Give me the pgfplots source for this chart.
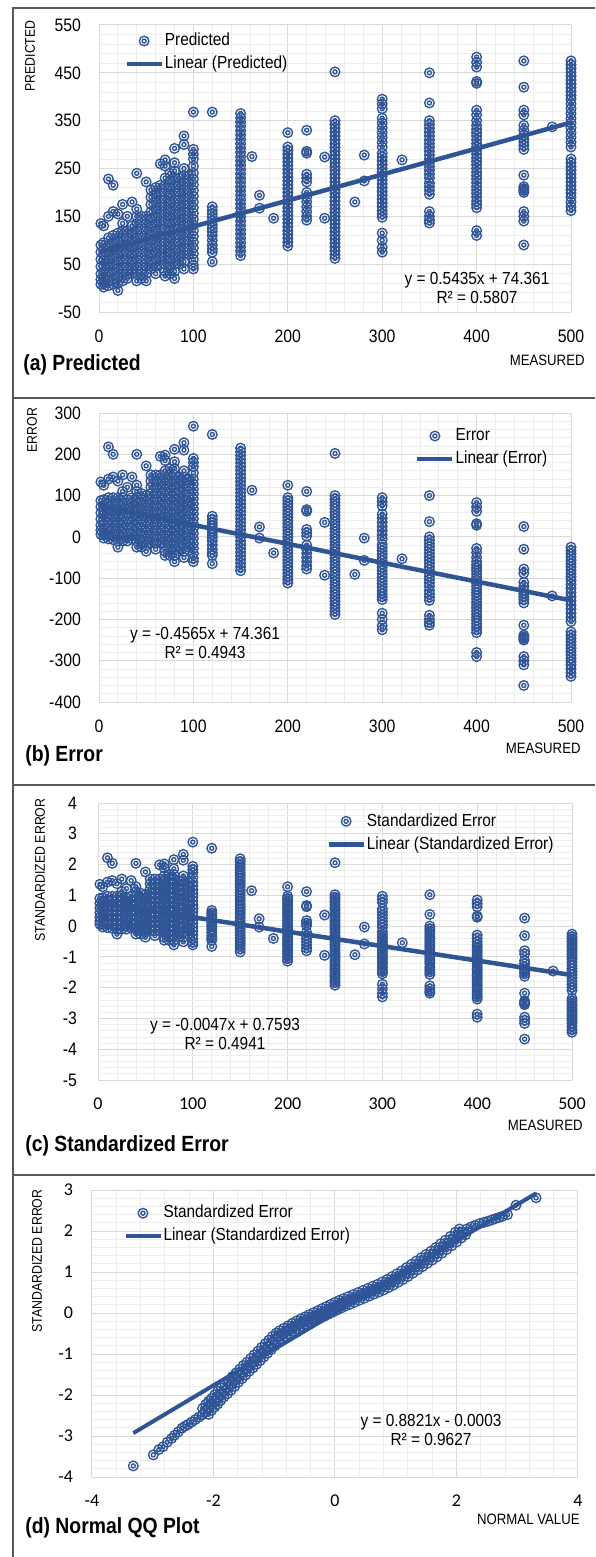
\documentclass[border=0pt]{standalone}
\usepackage{pgfplots}
\pgfplotsset{compat=1.18}
\usepackage{pgfplotstable}
\usepackage{fontspec}
\setmainfont{Liberation Sans}[FakeStretch=0.88]
\newfontfamily\carl{Carlito}
\definecolor{cBlue}{HTML}{2F5597}
\definecolor{gMaj}{HTML}{D9D9D9}
\definecolor{gMin}{HTML}{EDEDED}
\definecolor{frameC}{HTML}{595959}

\pgfdeclareplotmark{dring}{%
  \pgfpathcircle{\pgfpointorigin}{\pgfplotmarksize}%
  \pgfpathcircle{\pgfpointorigin}{0.42\pgfplotmarksize}%
  \pgfusepathqstroke}

\pgfplotsset{
  /pgf/number format/assume math mode=true,
  xlsx/.style={
    scale only axis, anchor=south west, clip=false,
    axis line style={draw=none}, tick style={draw=none},
    grid=both, major grid style={gMaj, line width=0.5pt},
    minor grid style={gMin, line width=0.4pt},
    minor x tick num=4, minor y tick num=4,
    tick label style={font=\fontsize{9}{10}\selectfont},
    xticklabel style={yshift=-5.5pt},
    yticklabel style={xshift=-5.5pt},
    legend cell align=left,
    legend style={draw=none, fill=none, anchor=north west, inner sep=0pt,
      font=\fontsize{8.75}{10}\selectfont, row sep=2.2pt,
      nodes={inner sep=0.5pt, text height=6.5pt, text depth=1.8pt}},
  },
  ring/.style={only marks, mark=dring, mark size=2.4pt,
    mark options={draw=cBlue, line width=0.68pt},
    legend image code/.code={\draw[mark repeat=2,mark phase=2,##1]
      plot coordinates {(0pt,0pt) (8.75pt,0pt) (17.5pt,0pt)};}},
  trend/.style={cBlue, line width=2.25pt, no marks,
    legend image code/.code={\draw[##1] (0pt,0pt) -- (17.5pt,0pt);}},
}

\pgfplotstableread{
x p e s
500 475 -25 -0.26
500 467 -33 -0.34
500 459 -41 -0.42
500 451 -49 -0.50
500 443 -57 -0.58
500 435 -65 -0.66
500 427 -73 -0.74
500 419 -81 -0.83
500 411 -89 -0.91
500 403 -97 -0.99
500 395 -105 -1.07
500 385 -115 -1.17
500 375 -125 -1.28
500 365 -135 -1.38
500 355 -145 -1.48
500 345 -155 -1.58
500 335 -165 -1.68
500 325 -175 -1.79
500 315 -185 -1.89
500 305 -195 -1.99
500 295 -205 -2.09
500 270 -230 -2.35
500 262 -238 -2.43
500 254 -246 -2.51
500 246 -254 -2.59
500 238 -262 -2.67
500 230 -270 -2.76
500 222 -278 -2.84
500 214 -286 -2.92
500 206 -294 -3.00
500 198 -302 -3.08
500 190 -310 -3.16
500 180 -320 -3.27
500 170 -330 -3.37
500 162 -338 -3.45
480 337 -143 -1.46
450 475 25 0.26
450 420 -30 -0.31
450 372 -78 -0.80
450 362 -88 -0.90
450 340 -110 -1.12
450 330 -120 -1.22
450 320 -130 -1.33
450 312 -138 -1.41
450 305 -145 -1.48
450 298 -152 -1.55
450 290 -160 -1.63
450 236 -214 -2.18
450 212 -238 -2.43
450 208 -242 -2.47
450 204 -246 -2.51
450 200 -250 -2.55
450 160 -290 -2.96
450 150 -300 -3.06
450 140 -310 -3.16
450 90 -360 -3.67
400 483 83 0.85
400 472 72 0.73
400 462 62 0.63
400 432 32 0.33
400 428 28 0.29
400 372 -28 -0.29
400 362 -38 -0.39
400 350 -50 -0.51
400 340 -60 -0.61
400 332 -68 -0.69
400 325 -75 -0.77
400 318 -82 -0.84
400 310 -90 -0.92
400 302 -98 -1.00
400 295 -105 -1.07
400 288 -112 -1.14
400 280 -120 -1.22
400 272 -128 -1.31
400 265 -135 -1.38
400 258 -142 -1.45
400 250 -150 -1.53
400 242 -158 -1.61
400 235 -165 -1.68
400 228 -172 -1.76
400 220 -180 -1.84
400 212 -188 -1.92
400 205 -195 -1.99
400 198 -202 -2.06
400 190 -210 -2.14
400 182 -218 -2.22
400 175 -225 -2.30
400 168 -232 -2.37
400 120 -280 -2.86
400 110 -290 -2.96
350 450 100 1.02
350 387 37 0.38
350 350 0 0.00
350 342 -8 -0.08
350 334 -16 -0.16
350 326 -24 -0.24
350 318 -32 -0.33
350 310 -40 -0.41
350 302 -48 -0.49
350 294 -56 -0.57
350 286 -64 -0.65
350 278 -72 -0.73
350 270 -80 -0.82
350 262 -88 -0.90
350 254 -96 -0.98
350 246 -104 -1.06
350 238 -112 -1.14
350 230 -120 -1.22
350 220 -130 -1.33
350 212 -138 -1.41
350 204 -146 -1.49
350 196 -154 -1.57
350 160 -190 -1.94
350 150 -200 -2.04
350 142 -208 -2.12
350 136 -214 -2.18
321 268 -53 -0.54
281 278 -3 -0.03
281 224 -57 -0.58
271 180 -91 -0.93
239 274 35 0.36
239 146 -93 -0.95
300 395 95 0.97
300 385 85 0.87
300 375 75 0.77
300 355 55 0.56
300 345 45 0.46
300 335 35 0.36
300 325 25 0.26
300 315 15 0.15
300 305 5 0.05
300 295 -5 -0.05
300 282 -18 -0.18
300 274 -26 -0.27
300 266 -34 -0.35
300 258 -42 -0.43
300 250 -50 -0.51
300 242 -58 -0.59
300 234 -66 -0.67
300 226 -74 -0.76
300 218 -82 -0.84
300 210 -90 -0.92
300 202 -98 -1.00
300 194 -106 -1.08
300 186 -114 -1.16
300 178 -122 -1.24
300 170 -130 -1.33
300 162 -138 -1.41
300 155 -145 -1.48
300 148 -152 -1.55
300 115 -185 -1.89
300 100 -200 -2.04
300 85 -215 -2.19
300 75 -225 -2.30
250 452 202 2.06
250 350 100 1.02
250 342 92 0.94
250 334 84 0.86
250 326 76 0.78
250 318 68 0.69
250 310 60 0.61
250 302 52 0.53
250 294 44 0.45
250 286 36 0.37
250 278 28 0.29
250 270 20 0.20
250 262 12 0.12
250 254 4 0.04
250 246 -4 -0.04
250 238 -12 -0.12
250 230 -20 -0.20
250 222 -28 -0.29
250 214 -36 -0.37
250 206 -44 -0.45
250 198 -52 -0.53
250 190 -60 -0.61
250 182 -68 -0.69
250 174 -76 -0.78
250 166 -84 -0.86
250 158 -92 -0.94
250 150 -100 -1.02
250 142 -108 -1.10
250 134 -116 -1.18
250 126 -124 -1.27
250 118 -132 -1.35
250 110 -140 -1.43
250 102 -148 -1.51
250 94 -156 -1.59
250 86 -164 -1.67
250 78 -172 -1.76
250 70 -180 -1.84
250 62 -188 -1.92
220 330 110 1.12
220 286 66 0.67
220 282 62 0.63
220 238 18 0.18
220 230 10 0.10
220 222 2 0.02
220 200 -20 -0.20
220 190 -30 -0.31
220 180 -40 -0.41
220 170 -50 -0.51
220 160 -60 -0.61
220 150 -70 -0.71
220 142 -78 -0.80
200 325 125 1.28
200 295 95 0.97
200 288 88 0.90
200 280 80 0.82
200 272 72 0.73
200 264 64 0.65
200 256 56 0.57
200 248 48 0.49
200 240 40 0.41
200 232 32 0.33
200 224 24 0.24
200 216 16 0.16
200 208 8 0.08
200 200 0 0.00
200 192 -8 -0.08
200 184 -16 -0.16
200 176 -24 -0.24
200 168 -32 -0.33
200 160 -40 -0.41
200 152 -48 -0.49
200 144 -56 -0.57
200 136 -64 -0.65
200 128 -72 -0.73
200 120 -80 -0.82
200 112 -88 -0.90
200 104 -96 -0.98
200 96 -104 -1.06
200 88 -112 -1.14
185 146 -39 -0.40
170 194 24 0.24
170 167 -3 -0.03
162 275 113 1.15
150 365 215 2.19
150 356 206 2.10
150 347 197 2.01
150 338 188 1.92
150 329 179 1.83
150 320 170 1.73
150 311 161 1.64
150 302 152 1.55
150 293 143 1.46
150 284 134 1.37
150 275 125 1.28
150 266 116 1.18
150 257 107 1.09
150 248 98 1.00
150 239 89 0.91
150 230 80 0.82
150 221 71 0.72
150 212 62 0.63
150 203 53 0.54
150 194 44 0.45
150 185 35 0.36
150 176 26 0.27
150 167 17 0.17
150 158 8 0.08
150 149 -1 -0.01
150 140 -10 -0.10
150 131 -19 -0.19
150 122 -28 -0.29
150 113 -37 -0.38
150 104 -46 -0.47
150 95 -55 -0.56
150 86 -64 -0.65
150 77 -73 -0.74
150 68 -82 -0.84
120 368 248 2.53
120 170 50 0.51
120 162 42 0.43
120 155 35 0.36
120 148 28 0.29
120 140 20 0.20
120 132 12 0.12
120 125 5 0.05
120 118 -2 -0.02
120 110 -10 -0.10
120 100 -20 -0.20
120 90 -30 -0.31
120 82 -38 -0.39
120 75 -45 -0.46
120 55 -65 -0.66
100 368 268 2.73
100 290 190 1.94
100 280 180 1.84
100 270 170 1.73
100 255 155 1.58
100 240 140 1.43
100 228 128 1.31
100 216 116 1.18
100 204 104 1.06
100 192 92 0.94
100 180 80 0.82
100 168 68 0.69
100 156 56 0.57
100 144 44 0.45
100 132 32 0.33
100 120 20 0.20
100 108 8 0.08
100 96 -4 -0.04
100 84 -16 -0.16
100 72 -28 -0.29
100 60 -40 -0.41
100 48 -52 -0.53
100 40 -60 -0.61
95 235 140 1.43
95 220 125 1.28
95 205 110 1.12
95 190 95 0.97
95 175 80 0.82
95 160 65 0.66
95 145 50 0.51
95 130 35 0.36
95 115 20 0.20
95 100 5 0.05
95 85 -10 -0.10
95 70 -25 -0.26
90 318 228 2.33
90 300 210 2.14
90 250 160 1.63
90 235 145 1.48
90 220 130 1.33
90 205 115 1.17
90 190 100 1.02
90 175 85 0.87
90 160 70 0.71
90 145 55 0.56
90 130 40 0.41
90 115 25 0.26
90 100 10 0.10
90 85 -5 -0.05
90 70 -20 -0.20
90 55 -35 -0.36
90 40 -50 -0.51
85 230 145 1.48
85 215 130 1.33
85 200 115 1.17
85 185 100 1.02
85 170 85 0.87
85 155 70 0.71
85 140 55 0.56
85 125 40 0.41
85 110 25 0.26
85 95 10 0.10
85 80 -5 -0.05
85 65 -20 -0.20
85 50 -35 -0.36
80 292 212 2.16
80 262 182 1.86
80 245 165 1.68
80 230 150 1.53
80 215 135 1.38
80 200 120 1.22
80 185 105 1.07
80 170 90 0.92
80 155 75 0.77
80 140 60 0.61
80 125 45 0.46
80 110 30 0.31
80 95 15 0.15
80 80 0 0.00
80 65 -15 -0.15
80 50 -30 -0.31
80 35 -45 -0.46
80 20 -60 -0.61
75 240 165 1.68
75 225 150 1.53
75 210 135 1.38
75 195 120 1.22
75 180 105 1.07
75 165 90 0.92
75 150 75 0.77
75 135 60 0.61
75 120 45 0.46
75 105 30 0.31
75 90 15 0.15
75 75 0 0.00
75 60 -15 -0.15
75 45 -30 -0.31
75 30 -45 -0.46
70 268 198 2.02
70 255 185 1.89
70 230 160 1.63
70 215 145 1.48
70 200 130 1.33
70 185 115 1.17
70 170 100 1.02
70 155 85 0.87
70 140 70 0.71
70 125 55 0.56
70 110 40 0.41
70 95 25 0.26
70 80 10 0.10
70 65 -5 -0.05
70 50 -20 -0.20
70 35 -35 -0.36
70 25 -45 -0.46
65 260 195 1.99
65 215 150 1.53
65 200 135 1.38
65 185 120 1.22
65 170 105 1.07
65 155 90 0.92
65 140 75 0.77
65 125 60 0.61
65 110 45 0.46
65 95 30 0.31
65 80 15 0.15
65 65 0 0.00
65 50 -15 -0.15
60 210 150 1.53
60 195 135 1.38
60 180 120 1.22
60 165 105 1.07
60 150 90 0.92
60 135 75 0.77
60 120 60 0.61
60 105 45 0.46
60 90 30 0.31
60 75 15 0.15
60 60 0 0.00
60 45 -15 -0.15
60 30 -30 -0.31
55 205 150 1.53
55 190 135 1.38
55 175 120 1.22
55 160 105 1.07
55 145 90 0.92
55 130 75 0.77
55 115 60 0.61
55 100 45 0.46
55 85 30 0.31
55 70 15 0.15
55 55 0 0.00
55 40 -15 -0.15
50 222 172 1.76
50 150 100 1.02
50 135 85 0.87
50 120 70 0.71
50 105 55 0.56
50 90 40 0.41
50 75 25 0.26
50 60 10 0.10
50 45 -5 -0.05
50 30 -20 -0.20
50 15 -35 -0.36
45 150 105 1.07
45 135 90 0.92
45 120 75 0.77
45 105 60 0.61
45 90 45 0.46
45 75 30 0.31
45 60 15 0.15
45 45 0 0.00
45 30 -15 -0.15
45 20 -25 -0.26
40 240 200 2.04
40 165 125 1.28
40 150 110 1.12
40 135 95 0.97
40 120 80 0.82
40 105 65 0.66
40 90 50 0.51
40 75 35 0.36
40 60 20 0.20
40 45 5 0.05
40 30 -10 -0.10
40 15 -25 -0.26
35 180 145 1.48
35 130 95 0.97
35 115 80 0.82
35 100 65 0.66
35 85 50 0.51
35 70 35 0.36
35 55 20 0.20
35 40 5 0.05
35 30 -5 -0.05
30 150 120 1.22
30 120 90 0.92
30 105 75 0.77
30 90 60 0.61
30 75 45 0.46
30 60 30 0.31
30 45 15 0.15
30 30 0 0.00
30 20 -10 -0.10
25 175 150 1.53
25 135 110 1.12
25 120 95 0.97
25 105 80 0.82
25 90 65 0.66
25 75 50 0.51
25 60 35 0.36
25 45 20 0.20
25 30 5 0.05
25 15 -10 -0.10
20 155 135 1.38
20 115 95 0.97
20 100 80 0.82
20 85 65 0.66
20 70 50 0.51
20 55 35 0.36
20 40 20 0.20
20 25 5 0.05
20 10 -10 -0.10
20 -5 -25 -0.26
15 215 200 2.04
15 160 145 1.48
15 110 95 0.97
15 95 80 0.82
15 80 65 0.66
15 65 50 0.51
15 50 35 0.36
15 35 20 0.20
15 20 5 0.05
15 8 -7 -0.07
10 228 218 2.22
10 150 140 1.43
10 105 95 0.97
10 90 80 0.82
10 75 65 0.66
10 60 50 0.51
10 45 35 0.36
10 30 20 0.20
10 15 5 0.05
10 5 -5 -0.05
5 130 125 1.28
5 95 90 0.92
5 82 77 0.79
5 70 65 0.66
5 58 53 0.54
5 46 41 0.42
5 34 29 0.30
5 22 17 0.17
5 10 5 0.05
5 2 -3 -0.03
2 135 133 1.36
2 90 88 0.90
2 75 73 0.74
2 60 58 0.59
2 45 43 0.44
2 30 28 0.29
2 18 16 0.16
2 8 6 0.06
}\datatab

\pgfplotstableread{
v s
-3.32 -3.73
-2.99 -3.46
-2.90 -3.33
-2.83 -3.26
-2.76 -3.15
-2.69 -3.06
-2.64 -2.98
-2.58 -2.90
-2.52 -2.81
-2.47 -2.76
-2.42 -2.72
-2.36 -2.66
-2.30 -2.60
-2.24 -2.54
-2.18 -2.48
-2.13 -2.40
-2.08 -2.30
-2.03 -2.22
-1.98 -2.15
-1.93 -2.06
-1.88 -1.98
-1.82 -1.90
-1.76 -1.81
-1.70 -1.72
-1.64 -1.62
-1.58 -1.53
-1.52 -1.44
-1.46 -1.35
-1.40 -1.27
-1.34 -1.18
-1.28 -1.09
-1.22 -1.00
-1.16 -0.91
-1.10 -0.82
-1.04 -0.73
-0.98 -0.64
-0.92 -0.56
-0.86 -0.50
-0.79 -0.44
-0.72 -0.38
-0.65 -0.32
-0.58 -0.26
-0.51 -0.21
-0.44 -0.16
-0.37 -0.11
-0.30 -0.06
-0.23 -0.01
-0.16 0.04
-0.09 0.09
-0.02 0.14
0.05 0.19
0.12 0.24
0.19 0.28
0.27 0.33
0.35 0.38
0.43 0.43
0.51 0.48
0.59 0.53
0.67 0.58
0.75 0.63
0.83 0.69
0.91 0.75
0.99 0.82
1.07 0.89
1.15 0.96
1.23 1.04
1.31 1.12
1.39 1.20
1.47 1.28
1.55 1.36
1.63 1.44
1.71 1.53
1.79 1.62
1.87 1.71
1.95 1.80
2.03 1.90
2.10 1.98
2.17 2.05
2.24 2.10
2.31 2.14
2.38 2.18
2.45 2.21
2.52 2.24
2.58 2.27
2.64 2.30
2.70 2.33
2.76 2.36
2.84 2.40
2.98 2.63
3.31 2.81
-2.18 -2.33
-2.13 -2.23
-2.08 -2.15
-2.03 -2.08
-1.98 -1.99
-1.93 -1.91
-1.87 -1.83
-1.81 -1.74
-1.75 -1.65
-1.69 -1.55
-1.63 -1.46
-1.57 -1.37
-1.51 -1.28
-1.45 -1.20
-1.39 -1.11
-1.33 -1.02
-1.27 -0.93
-1.21 -0.84
-1.15 -0.75
-1.09 -0.66
-1.03 -0.57
-0.97 -0.49
-0.91 -0.43
-0.84 -0.37
-0.77 -0.31
-0.70 -0.25
-0.63 -0.19
-0.56 -0.14
-0.49 -0.09
-0.42 -0.04
-0.35 0.01
-0.28 0.06
-0.21 0.11
-0.14 0.16
-0.07 0.21
0.00 0.26
0.07 0.31
0.14 0.35
0.22 0.40
0.30 0.45
0.38 0.50
0.46 0.55
0.54 0.60
0.62 0.65
0.70 0.70
0.78 0.76
0.86 0.82
0.94 0.89
1.02 0.96
1.10 1.03
1.18 1.11
1.26 1.19
1.34 1.27
1.42 1.35
1.50 1.43
1.58 1.51
1.66 1.60
1.74 1.69
1.82 1.78
1.90 1.87
1.98 1.97
2.05 2.05
-2.08 -2.47
-2.03 -2.37
-1.98 -2.29
-1.93 -2.22
-1.88 -2.13
-1.83 -2.05
-1.77 -1.97
-1.71 -1.88
-1.65 -1.79
-1.59 -1.69
-1.53 -1.60
-1.47 -1.51
-1.41 -1.42
-1.35 -1.34
-1.29 -1.25
-1.23 -1.16
-1.17 -1.07
-1.11 -0.98
-1.05 -0.89
-0.99 -0.80
-0.93 -0.71
-0.87 -0.63
-0.81 -0.57
-0.74 -0.51
-0.67 -0.45
-0.60 -0.39
-0.53 -0.33
-0.46 -0.28
-0.39 -0.23
-0.32 -0.18
-0.25 -0.13
-0.18 -0.08
-0.11 -0.03
-0.04 0.02
0.03 0.07
0.10 0.12
0.17 0.17
0.24 0.21
0.32 0.26
0.40 0.31
0.48 0.36
0.56 0.41
0.64 0.46
0.72 0.51
0.80 0.56
0.88 0.62
0.96 0.68
1.04 0.75
1.12 0.82
1.20 0.89
1.28 0.97
1.36 1.05
1.44 1.13
1.52 1.21
1.60 1.29
1.68 1.37
1.76 1.46
1.84 1.55
1.92 1.64
2.00 1.73
2.08 1.83
2.15 1.91
}\qqtab

\newcommand\axtitle{\fontsize{7}{8}\selectfont}
\newcommand\xtitle{\fontsize{7.5}{8}\selectfont}
\newcommand\eqfont{\fontsize{8.75}{9.5}\selectfont}
\newcommand\ptitle{\fontsize{11}{12}\selectfont\bfseries}

\begin{document}
\begin{tikzpicture}[x=0.5pt,y=-0.5pt]
\path[use as bounding box] (0,0) rectangle (595,1557);

% (a) Predicted
\begin{axis}[xlsx, at={(49.5pt,-156pt)}, width=236pt, height=143.5pt,
  xmin=0, xmax=500, ymin=-50, ymax=550,
  xtick={0,100,...,500}, ytick={-50,50,...,550},
  legend style={at={(0.053,0.978)}}]
\addplot[ring] table[x=x,y=p]{\datatab};
\addlegendentry{Predicted}
\addplot[trend] coordinates {(0,74.361) (500,346.111)};
\addlegendentry{Linear (Predicted)}
\end{axis}

% (b) Error
\begin{axis}[xlsx, at={(49.5pt,-351pt)}, width=236pt, height=144.5pt,
  xmin=0, xmax=500, ymin=-400, ymax=300,
  xtick={0,100,...,500}, ytick={-400,-300,...,300},
  legend style={at={(0.669,0.954)}}]
\addplot[ring] table[x=x,y=e]{\datatab};
\addlegendentry{Error}
\addplot[trend] coordinates {(0,74.361) (500,-153.889)};
\addlegendentry{Linear (Error)}
\end{axis}

% (c) Standardized error
\begin{axis}[xlsx, at={(49pt,-540pt)}, width=237pt, height=138.5pt,
  xmin=0, xmax=500, ymin=-5, ymax=4,
  xtick={0,100,...,500}, ytick={-5,-4,...,4},
  xticklabel style={font=\carl\fontsize{9}{10}\selectfont},
  yticklabel style={xshift=-1.5pt},
  legend style={at={(0.481,0.969)}}]
\addplot[ring] table[x=x,y=s]{\datatab};
\addlegendentry{Standardized Error}
\addplot[trend] coordinates {(0,0.7593) (500,-1.5907)};
\addlegendentry{Linear (Standardized Error)}
\end{axis}

% (d) Normal QQ plot
\begin{axis}[xlsx, at={(46pt,-738.5pt)}, width=243pt, height=143.5pt,
  xmin=-4, xmax=4, ymin=-4, ymax=3,
  xtick={-4,-2,...,4}, ytick={-4,-3,...,3},
  tick label style={font=\carl\fontsize{9}{10}\selectfont},
  yticklabel style={xshift=-0.5pt},
  legend style={at={(0.064,0.953)}}]
\addplot[ring] table[x=v,y=s]{\qqtab};
\addlegendentry{Standardized Error}
\addplot[trend, line width=2pt] coordinates {(-3.32,-2.929) (3.31,2.919)};
\addlegendentry{Linear (Standardized Error)}
\end{axis}

% frame and separators
\draw[frameC, line width=0.8pt] (13,1557) -- (13,8) -- (595,8);
\draw[frameC, line width=0.8pt] (13,398) -- (595,398);
\draw[frameC, line width=0.8pt] (13,785) -- (595,785);
\draw[frameC, line width=0.8pt] (13,1175) -- (595,1175);

% axis titles
\node[rotate=90, font=\axtitle] at (30,56) {PREDICTED};
\node[rotate=90, font=\axtitle] at (32,430) {ERROR};
\node[rotate=90, font=\axtitle] at (40,870) {STANDARDIZED ERROR};
\node[rotate=90, font=\axtitle] at (37,1261) {STANDARDIZED ERROR};
\node[anchor=east, font=\xtitle, inner sep=0pt] at (585,360) {MEASURED};
\node[anchor=east, font=\xtitle, inner sep=0pt] at (581,748) {MEASURED};
\node[anchor=east, font=\xtitle, inner sep=0pt] at (583,1125) {MEASURED};
\node[anchor=east, font=\xtitle, inner sep=0pt] at (580,1519) {NORMAL VALUE};

% trendline equations
\node[align=center, font=\eqfont] at (477,287.5) {y = 0.5435x + 74.361\\R² = 0.5807};
\node[align=center, font=\eqfont] at (205,643) {y = -0.4565x + 74.361\\R² = 0.4943};
\node[align=center, font=\eqfont] at (225,1034) {y = -0.0047x + 0.7593\\R² = 0.4941};
\node[align=center, font=\eqfont] at (431,1430) {y = 0.8821x - 0.0003\\R² = 0.9627};

% panel titles
\node[anchor=base west, font=\ptitle, inner sep=0pt] at (23,370) {(a) Predicted};
\node[anchor=base west, font=\ptitle, inner sep=0pt] at (25,761) {(b) Error};
\node[anchor=base west, font=\ptitle, inner sep=0pt] at (25,1151) {(c) Standardized Error};
\node[anchor=base west, font=\ptitle, inner sep=0pt] at (25,1533) {(d) Normal QQ Plot};
\end{tikzpicture}
\end{document}
